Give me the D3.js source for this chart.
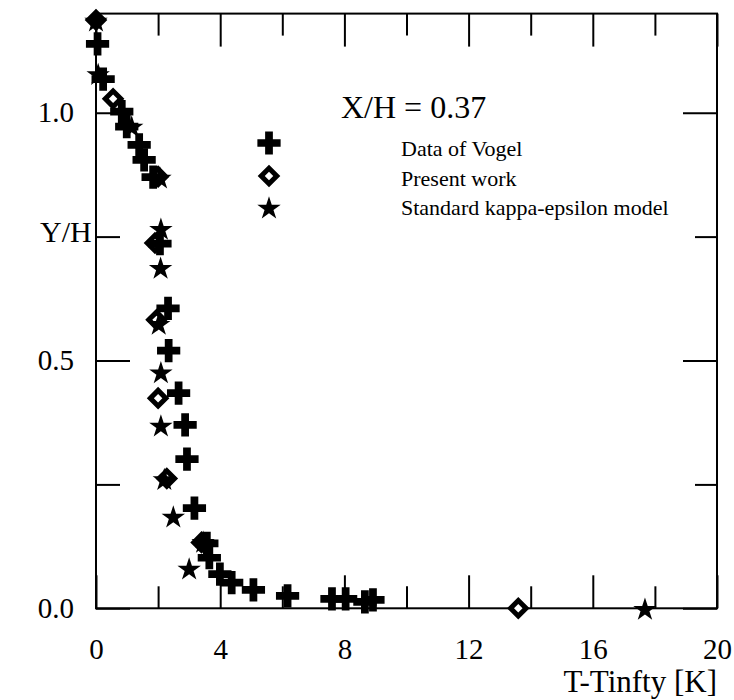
<!DOCTYPE html>
<html>
<head>
<meta charset="utf-8">
<script src="https://cdnjs.cloudflare.com/ajax/libs/d3/7.8.5/d3.min.js"></script>
<style>
  body { margin: 0; background: #fff; }
  svg { display: block; font-family: "Liberation Serif", "Times New Roman", serif; }
  svg text { font-family: "Liberation Serif", "Times New Roman", serif; }
</style>
</head>
<body>
<div id="chart"></div>
<script>
// Data of Vogel (crosses)
var vogelX = [0.05, 0.23, 0.83, 0.99, 1.39, 1.55, 1.84, 2.06, 2.32, 2.34, 2.66, 2.87, 2.93, 3.17, 3.57, 3.65, 3.99, 4.37, 5.07, 6.17, 7.60, 8.04, 8.66, 8.92];
var vogelY = [1.139, 1.068, 1.002, 0.972, 0.935, 0.905, 0.870, 0.736, 0.605, 0.520, 0.434, 0.370, 0.301, 0.202, 0.131, 0.102, 0.069, 0.052, 0.037, 0.025, 0.019, 0.019, 0.013, 0.017];

// Present work (diamonds)
var presentX = [0.0, 0.55, 2.0, 1.9, 1.95, 2.0, 2.28, 3.40, 13.6];
var presentY = [1.187, 1.028, 0.871, 0.737, 0.582, 0.424, 0.262, 0.133, 0.0];

// Standard kappa-epsilon model (stars)
var keX = [0.0, 0.07, 1.15, 2.06, 2.09, 2.08, 2.02, 2.09, 2.09, 2.2, 2.49, 3.0, 3.45, 17.68];
var keY = [1.187, 1.079, 0.973, 0.870, 0.767, 0.688, 0.575, 0.477, 0.370, 0.262, 0.186, 0.081, 0.135, 0.0];

var xMajor = [0, 4, 8, 12, 16, 20];
var xMinor = [2, 6, 10, 14, 18];
var yMajor = [0.0, 0.5, 1.0];
var yMinor = [0.25, 0.75];

var legendNames = ["Data of Vogel", "Present work", "Standard kappa-epsilon model"];

function drawChart() {
  var svgWidth = 734, svgHeight = 700;
  var pLeft = 96, pRight = 717, pTop = 13.6, pBottom = 608.3;

  var svg = d3.select("#chart").append("svg")
    .attr("width", svgWidth)
    .attr("height", svgHeight);

  var x = d3.scaleLinear().domain([0, 20]).range([pLeft, pRight]);
  var y = d3.scaleLinear().domain([0, 1.2]).range([pBottom, pTop]);

  function styleAxis(g) {
    g.attr("font-family", null);
    g.select(".domain").remove();
    g.selectAll(".tick line").attr("stroke", "#000").attr("stroke-width", 2);
    g.selectAll(".tick text").attr("fill", "#000").attr("font-size", 29);
  }

  // bottom
  svg.append("g").attr("transform", "translate(0," + pBottom + ")")
    .call(d3.axisBottom(x).tickValues(xMajor).tickSize(-33).tickFormat(d3.format("d")))
    .call(styleAxis)
    .selectAll(".tick text").attr("y", 30).attr("dy", "0.71em");
  svg.append("g").attr("transform", "translate(0," + pBottom + ")")
    .call(d3.axisBottom(x).tickValues(xMinor).tickSize(-22).tickFormat(""))
    .call(styleAxis);
  // top
  svg.append("g").attr("transform", "translate(0," + pTop + ")")
    .call(d3.axisTop(x).tickValues(xMajor).tickSize(-33).tickFormat(""))
    .call(styleAxis);
  svg.append("g").attr("transform", "translate(0," + pTop + ")")
    .call(d3.axisTop(x).tickValues(xMinor).tickSize(-22).tickFormat(""))
    .call(styleAxis);
  // left
  svg.append("g").attr("transform", "translate(" + pLeft + ",0)")
    .call(d3.axisLeft(y).tickValues(yMajor).tickSize(-34).tickFormat(d3.format(".1f")))
    .call(styleAxis)
    .selectAll(".tick text").attr("x", -22);
  svg.append("g").attr("transform", "translate(" + pLeft + ",0)")
    .call(d3.axisLeft(y).tickValues(yMinor).tickSize(-24).tickFormat(""))
    .call(styleAxis);
  // right
  svg.append("g").attr("transform", "translate(" + pRight + ",0)")
    .call(d3.axisRight(y).tickValues(yMajor).tickSize(-34).tickFormat(""))
    .call(styleAxis);
  svg.append("g").attr("transform", "translate(" + pRight + ",0)")
    .call(d3.axisRight(y).tickValues(yMinor).tickSize(-22).tickFormat(""))
    .call(styleAxis);

  // frame
  svg.append("rect")
    .attr("x", pLeft).attr("y", pTop)
    .attr("width", pRight - pLeft).attr("height", pBottom - pTop)
    .attr("fill", "none").attr("stroke", "#000").attr("stroke-width", 2);

  // markers
  var cross = d3.symbol().type(d3.symbolCross).size(300);
  var star = d3.symbol().type(d3.symbolStar).size(170);
  var square = d3.symbol().type(d3.symbolSquare).size(121);

  function drawCross(g, px, py) {
    g.append("path").attr("d", cross())
      .attr("transform", "translate(" + px + "," + py + ")")
      .attr("fill", "#000");
  }
  function drawStar(g, px, py) {
    g.append("path").attr("d", star())
      .attr("transform", "translate(" + px + "," + (py + 1.5) + ")")
      .attr("fill", "#000");
  }
  function drawDiamond(g, px, py) {
    g.append("path").attr("d", square())
      .attr("transform", "translate(" + px + "," + py + ") rotate(45)")
      .attr("fill", "#fff").attr("stroke", "#000").attr("stroke-width", 5);
  }

  var pts = svg.append("g");
  presentX.forEach(function(d, i) { drawDiamond(pts, x(d), y(presentY[i])); });
  keX.forEach(function(d, i) { drawStar(pts, x(d), y(keY[i])); });
  vogelX.forEach(function(d, i) { drawCross(pts, x(d), y(vogelY[i])); });

  // legend
  var lg = svg.append("g");
  drawCross(lg, 269, 143);
  drawDiamond(lg, 269, 176);
  drawStar(lg, 269, 207);
  lg.selectAll("text").data(legendNames).enter().append("text")
    .attr("x", 401)
    .attr("y", function(d, i) { return 156 + i * 29.5; })
    .attr("font-size", 22)
    .text(function(d) { return d; });

  svg.append("text").attr("x", 341).attr("y", 118).attr("font-size", 32).text("X/H = 0.37");

  svg.append("text").attr("x", 40).attr("y", 242).attr("font-size", 30).text("Y/H");
  svg.append("text").attr("x", pRight).attr("y", 692).attr("text-anchor", "end")
    .attr("font-size", 31).text("T-Tinfty [K]");
}

drawChart();
</script>
</body>
</html>
